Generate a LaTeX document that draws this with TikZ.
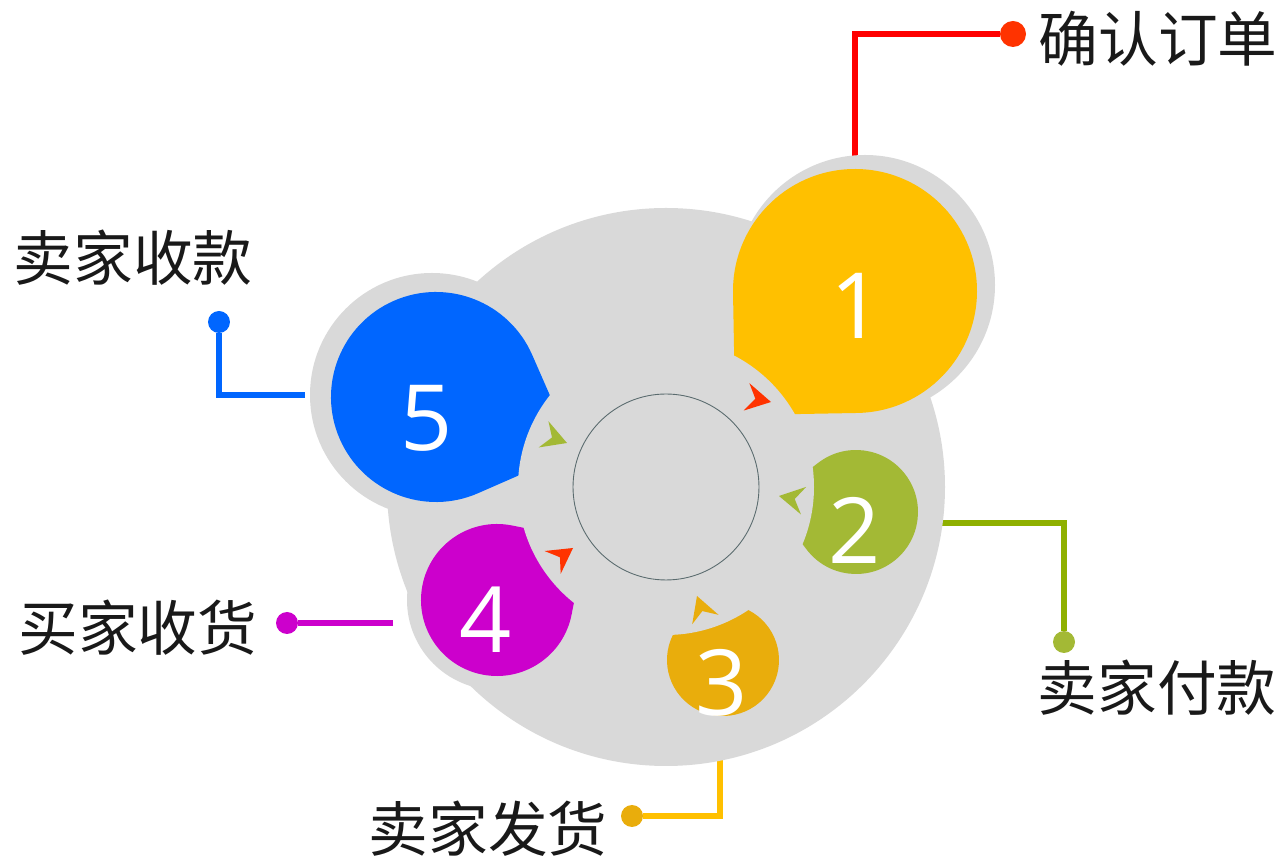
\documentclass[tikz,border=0pt]{standalone}
\usepackage{fontspec}
\setmainfont{Open Sans}
\newfontfamily\cjk{Noto Sans CJK SC}
\usetikzlibrary{calc}

\definecolor{ringgray}{HTML}{D9D9D9}
\definecolor{blobA}{HTML}{FFC000}
\definecolor{blobB}{HTML}{A3B935}
\definecolor{blobC}{HTML}{E9AD0C}
\definecolor{blobD}{HTML}{CC00CC}
\definecolor{blobE}{HTML}{0066FF}
\definecolor{leadA}{HTML}{FF0000}
\definecolor{dotA}{HTML}{FF3300}
\definecolor{leadB}{HTML}{8FB000}
\definecolor{hubline}{HTML}{5A6B6E}

\begin{document}
\begin{tikzpicture}[x=0.02cm,y=-0.02cm]
	\tikzstyle{dot}=[circle,inner sep=0pt,minimum size=0.44cm]
	\tikzstyle{tag}=[font=\cjk\fontsize{34}{34}\selectfont,text=black!90]
	\tikzstyle{num}=[font=\fontsize{52}{52}\selectfont,text=white]
	\tikzstyle{lead}=[line width=0.12cm]
	\tikzstyle{ring}=[fill=ringgray]

	\useasboundingbox (0,0) rectangle (1286,857);

	% dots and step names
	\node [dot,fill=dotA,minimum size=0.52cm] (d1) at (1013,34) {};
	\node [dot,fill=blobB] (d2) at (1064,642) {};
	\node [dot,fill=blobC] (d3) at (632,816) {};
	\node [dot,fill=blobD] (d4) at (287,623) {};
	\node [dot,fill=blobE] (d5) at (219,322) {};

	\node [tag] (t1) at (1158,39) {确认订单};
	\node [tag] (t2) at (1157,688) {卖家付款};
	\node [tag] (t3) at (488,829) {卖家发货};
	\node [tag] (t4) at (138,628) {买家收货};
	\node [tag] (t5) at (133,258) {卖家收款};

	% leader lines, ends hidden under the discs
	\coordinate (e1) at (855,175);
	\coordinate (e2) at (930,523);
	\coordinate (e3) at (720,740);
	\coordinate (e4) at (393,623);
	\coordinate (e5) at (305,395);
	\draw [lead,leadA] (e1) |- (d1);
	\draw [lead,leadB] (e2) -| (d2);
	\draw [lead,blobA] (e3) |- (d3);
	\draw [lead,blobD] (e4) -- (d4);
	\draw [lead,blobE] (e5) -| (d5);

	% grey discs
	\fill [ring] (865,285) circle [radius=130];
	\fill [ring] (432,395) circle [radius=122];
	\fill [ring] (497,600) circle [radius=90];
	\fill [ring] (666,487) circle [radius=279];

	% drop shaped steps pointing to the hub
	\foreach \cx/\cy/\rad/\col in {855/291/122/blobA, 856/512/62/blobB, 723/660/56/blobC, 497/600/76/blobD, 436/397/105/blobE}
	{
		\pgfmathsetmacro{\ang}{atan2(487-\cy,666-\cx)}
		\fill [\col] ($(\cx,\cy)+(\ang:{1.4142*\rad})$) -- ($(\cx,\cy)+(\ang+45:\rad)$)
			arc [start angle=\ang+45, end angle=\ang+315, radius=\rad] -- cycle;
	}

	\fill [ring] (666,487) circle [radius=148];
	\node [circle,draw=hubline,line width=0.5pt,minimum size=3.72cm,inner sep=0pt] (hub) at (666,487) {};

	% small arrows round the hub
	\foreach \ax/\ay/\aa/\col in {771/402/11.8/dotA, 779/496/190.8/blobB, 697/596/250.4/blobC, 573/548/-35.3/dotA, 567/443/20.3/blobB}
	{
		\fill [\col, shift={(\ax,\ay)}, rotate={-(\aa)}] (0,0) -- (-25,14) -- (-16,0) -- (-25,-14) -- cycle;
	}

	% numbers
	\node [num] (n1) at (857,306) {1};
	\node [num] (n2) at (855,530) {2};
	\node [num] (n3) at (722,683) {3};
	\node [num] (n4) at (486,620) {4};
	\node [num] (n5) at (427,418) {5};
\end{tikzpicture}
\end{document}
